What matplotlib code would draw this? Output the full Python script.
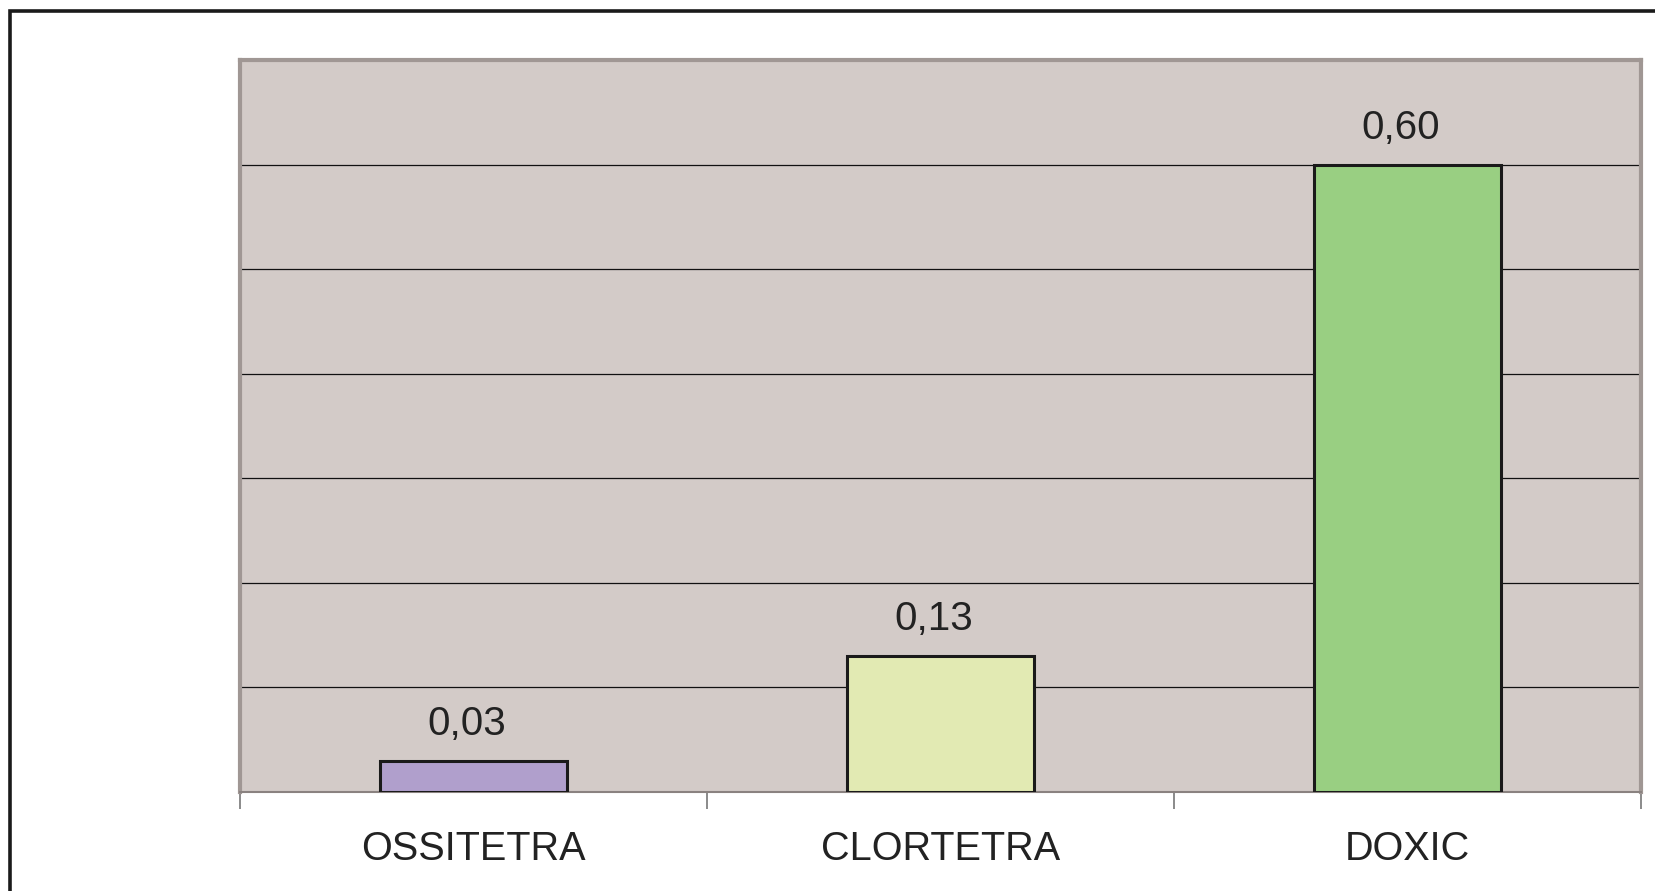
import matplotlib
matplotlib.use("Agg")
import matplotlib.pyplot as plt
from matplotlib.patches import Rectangle

plt.rcParams['font.family'] = ['Liberation Sans', 'DejaVu Sans']

categories = ['OSSITETRA', 'CLORTETRA', 'DOXIC']
values = [0.03, 0.13, 0.60]
bar_colors = ['#B09FCC', '#E2EAB3', '#99CF82']

W, H = 1656, 891
fig = plt.figure(figsize=(W / 100, H / 100), dpi=100)

# outer chart frame (runs off the right and bottom edges)
fig.patches.append(Rectangle((9.5 / W, -0.05), 1.2, 1 - 11 / H + 0.05,
                             transform=fig.transFigure, fill=False,
                             edgecolor='#1a1a1a', linewidth=2.6, zorder=0))

ax = fig.add_axes([240 / W, 1 - 792 / H, (1641 - 240) / W, (792 - 60) / H])
ax.set_facecolor('#D3CBC8')

x = list(range(len(categories)))
bars = ax.bar(x, values, width=0.4, color=bar_colors, edgecolor='#1a1a1a',
              linewidth=2.2, zorder=3)

for xi, v in zip(x, values):
    ax.text(xi - 0.015, v + 0.017, f'{v:.2f}'.replace('.', ','), ha='center',
            va='bottom', fontsize=29, color='#222222')

ax.set_xlim(-0.5, 2.5)
ax.set_ylim(0, 0.7)
ax.set_yticks([0.1, 0.2, 0.3, 0.4, 0.5, 0.6])
ax.yaxis.grid(True, color='#111111', linewidth=0.9)
ax.set_axisbelow(True)
ax.tick_params(axis='y', left=False, labelleft=False)

ax.set_xticks([-0.5, 0.5, 1.5, 2.5])
ax.set_xticks(x, minor=True)
ax.set_xticklabels([])
ax.set_xticklabels(categories, minor=True, fontsize=28.5, color='#222222')
ax.tick_params(axis='x', which='major', direction='out', length=12,
               width=1.2, color='#777777')
ax.tick_params(axis='x', which='minor', length=0, pad=27)

for side in ['left', 'top', 'right']:
    ax.spines[side].set_color('#A09794')
    ax.spines[side].set_linewidth(3)
ax.spines['bottom'].set_color('#8a8280')
ax.spines['bottom'].set_linewidth(1.5)

fig.savefig('out.png', dpi=100)
